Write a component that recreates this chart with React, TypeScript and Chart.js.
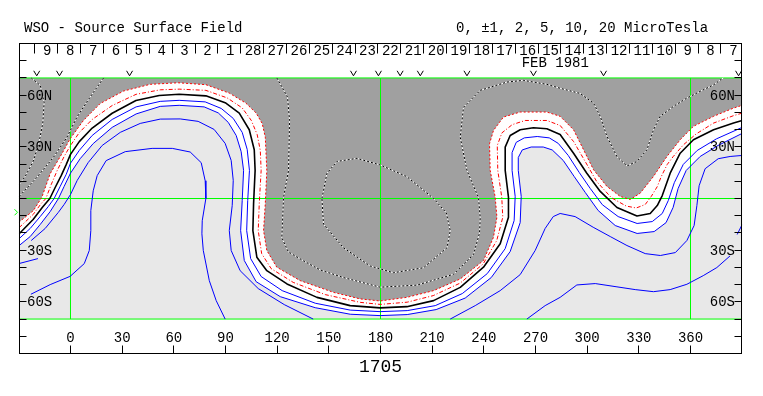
import { useEffect, useRef } from 'react';
import { Chart, registerables } from 'chart.js';

Chart.register(...registerables);

type Pt = [number, number]; // [longitude, latitude]

// ---- axes / labels ----
const LON_MIN = -30;
const LON_MAX = 390;
const LAT_MIN = -90;
const LAT_MAX = 90;
const PLOT_LAT = 70;
const gridLats = [70, 0, -70];
const gridLons = [0, 180, 360];
const lonTicks = [0, 30, 60, 90, 120, 150, 180, 210, 240, 270, 300, 330, 360];
const latTicks = [-80, -70, -60, -50, -40, -30, -20, -10, 0, 10, 20, 30, 40, 50, 60, 70, 80];
const latLabels: [number, string][] = [[60, '60N'], [30, '30N'], [-30, '30S'], [-60, '60S']];
const dayTickLons = [-20.7, -7.4, 5.9, 19.1, 32.4, 45.7, 59.0, 72.3, 85.5, 98.8, 112.1, 125.4, 138.7, 151.9, 165.2, 178.5, 191.8, 205.1, 218.3, 231.6, 244.9, 258.2, 271.5, 284.7, 298.0, 311.3, 324.6, 337.9, 351.1, 364.4, 377.7];
const dayLabels = ['9', '8', '7', '6', '5', '4', '3', '2', '1', '28', '27', '26', '25', '24', '23', '22', '21', '20', '19', '18', '17', '16', '15', '14', '13', '12', '11', '10', '9', '8', '7'];
const obsMarkLons = [-19.6, -6.4, 34.3, 164.3, 178.8, 191.4, 203.1, 230.2, 268.8, 309.5, 387.9];
const monthLabel = 'FEB 1981';
const monthLon = 281.5;
const b0Lat = -8;
const rotationLabel = '1705';
const titleLeft = 'WSO - Source Surface Field';
const titleRight = '0, \u00B11, 2, 5, 10, 20 MicroTesla';

// ---- contours ----
const neutralLine: Pt[] = [[-29.8, -20.5], [-21.7, -12.2], [-16.4, -5.2], [-12.0, 0], [-8.9, 6.4], [-5.4, 13.3], [-2.5, 19.7], [0, 25.6], [5.1, 33.0], [12.6, 40.9], [24.2, 49.5], [38.0, 56.9], [51.5, 59.8], [63.1, 60.5], [78.6, 59.6], [90.2, 55.4], [98.0, 49.6], [103.8, 39.9], [106.7, 28.3], [107.2, 16.3], [106.3, -3.1], [105.9, -18.6], [108.2, -34.1], [114.0, -41.9], [125.7, -49.6], [143.1, -57.4], [162.4, -62.2], [179.8, -63.5], [195.3, -62.8], [210.8, -59.3], [226.3, -51.6], [239.8, -39.9], [249.5, -26.3], [254.3, -10.9], [254.3, 0.8], [252.4, 16.3], [252.4, 29.8], [255.3, 36.6], [261.1, 39.9], [268.8, 41.1], [276.6, 40.5], [284.3, 37.2], [292.1, 26.3], [299.8, 14.7], [307.6, 4.1], [317.3, -5.2], [328.9, -10.2], [336.6, -8.7], [340.7, -4.1], [343.6, 1.7], [348.2, 14.7], [354.0, 26.3], [361.7, 34.1], [373.4, 39.9], [385.0, 43.8], [390, 45.3]];

const minusOne: Pt[] = [[-29.8, -16.9], [-21.7, -9.3], [-17.0, -2.9], [-14.3, 0], [-11.2, 8.1], [-7.7, 16.3], [-3.7, 24.4], [0, 30.8], [5.1, 38.3], [12.6, 45.9], [24.2, 54.0], [38.1, 60.5], [52.1, 63.1], [63.1, 63.5], [78.6, 62.8], [91.0, 58.4], [99.7, 52.6], [105.0, 45.3], [108.4, 37.1], [110.2, 27.9], [110.7, 16.3], [109.6, -2.9], [109.0, -18.6], [111.0, -32.0], [116.5, -40.7], [129.3, -48.7], [147.9, -55.8], [168.2, -60.3], [179.8, -61.5], [195.5, -60.2], [210.6, -56.4], [226.3, -49.1], [239.6, -38.0], [247.5, -24.4], [251.0, -10.9], [250.4, 0.8], [248.1, 16.3], [247.8, 30.8], [250.5, 38.1], [256.5, 42.9], [264.0, 45.3], [276.6, 45.3], [284.3, 42.4], [292.1, 33.1], [298.9, 21.4], [305.5, 9.9], [314.0, 0.5], [322.7, -4.4], [328.5, -5.5], [333.7, -3.5], [337.2, 1.2], [340.7, 6.9], [343.0, 12.7], [346.5, 19.8], [350.0, 24.4], [355.8, 31.1], [363.3, 37.5], [373.4, 43.8], [385.0, 48.1], [390, 49.6]];

const minusTwo: Pt[] = [[-30, -13.8], [-21.5, -7.0], [-16.6, 0.8], [-11.8, 14.4], [-5.0, 26.0], [-0.2, 34.7], [7.5, 45.3], [17.2, 55.1], [30.8, 62.4], [46.3, 66.3], [62.5, 67.2], [78.6, 66.1], [92.2, 61.2], [101.8, 55.4], [107.8, 49.6], [111.3, 43.6], [113.1, 35.6], [114.0, 16.3], [113.1, -3.1], [112.1, -18.6], [114.0, -30.2], [119.8, -39.9], [133.4, -47.7], [152.7, -54.5], [168.2, -58.3], [179.8, -59.5], [195.3, -57.4], [210.8, -53.5], [226.3, -46.7], [239.8, -36.0], [245.6, -22.5], [247.6, -10.9], [246.6, 0.8], [243.7, 16.3], [243.3, 31.8], [245.6, 39.5], [251.4, 47.3], [261.1, 50.2], [276.6, 50.2], [284.3, 47.7], [292.1, 39.9], [297.9, 28.3], [303.7, 16.7], [311.5, 7.0], [319.2, 1.2], [325.0, -0.6], [330.8, 3.1], [338.5, 12.8], [346.3, 24.4], [354.0, 34.1], [361.7, 41.9], [373.4, 47.7], [385.0, 52.5], [390, 54.1]];

const plusOne: Pt[] = [[-29.8, -23.3], [-23.4, -17.4], [-17.6, -10.5], [-12.9, -4.7], [-9.5, 0], [-6.0, 7.0], [-2.5, 14.0], [0, 20.5], [5.1, 27.9], [12.6, 36.6], [24.2, 45.9], [38.1, 53.2], [52.1, 56.4], [63.1, 57.0], [78.2, 56.1], [87.5, 52.3], [94.5, 46.5], [99.7, 38.4], [102.6, 28.5], [103.9, 16.3], [102.9, -1.2], [102.3, -18.6], [104.6, -34.9], [110.7, -45.3], [122.9, -53.5], [142.1, -60.8], [162.4, -64.8], [179.8, -65.7], [195.5, -65.1], [211.8, -62.2], [227.5, -55.2], [242.0, -43.6], [252.4, -29.1], [257.6, -12.8], [258.2, 1.2], [256.4, 16.3], [256.4, 26.7], [258.8, 32.6], [263.5, 35.2], [271.0, 36.0], [278.0, 35.2], [283.2, 32.0], [289.0, 25.0], [295.4, 15.1], [301.8, 5.8], [308.8, -3.6], [318.0, -10.5], [329.0, -14.5], [337.8, -13.4], [343.6, -8.7], [347.1, -1.2], [350.6, 9.2], [355.8, 19.8], [363.9, 27.9], [375.0, 34.6], [390, 41.3]];

const plusTwo: Pt[] = [[-29.8, -27.3], [-23.4, -22.1], [-17.6, -15.1], [-11.8, -7.6], [-7.0, 0], [-3.7, 7.0], [0, 14.7], [5.6, 23.1], [13.2, 31.9], [24.2, 41.3], [38.1, 49.1], [52.1, 53.5], [63.1, 54.1], [77.6, 53.2], [85.8, 49.7], [91.6, 44.2], [96.2, 36.6], [99.1, 27.2], [100.5, 16.3], [99.7, -1.2], [98.8, -18.6], [100.9, -36.0], [107.8, -48.3], [121.8, -57.0], [142.1, -63.4], [162.4, -67.2], [179.8, -68.0], [195.5, -67.4], [212.3, -64.5], [229.2, -57.8], [244.3, -45.9], [255.3, -30.8], [261.1, -14.0], [261.7, 1.2], [260.0, 16.3], [260.0, 23.8], [262.3, 28.2], [267.5, 29.9], [274.5, 29.9], [279.7, 28.2], [286.1, 22.1], [292.5, 12.7], [298.9, 3.5], [306.4, -7.0], [316.3, -15.7], [329.0, -20.3], [338.9, -19.2], [345.8, -14.0], [349.9, -5.2], [352.8, 5.8], [357.5, 16.3], [365.6, 24.4], [376.0, 30.8], [390, 37.8]];

const plusFiveWest: Pt[] = [[-22.8, -24.4], [-14.7, -17.4], [-7.1, -8.1], [-3.7, -3.5], [0, 2.3], [3.9, 10.5], [10.3, 20.9], [18.4, 30.8], [28.9, 38.4], [40.5, 43.6], [52.1, 46.1], [63.7, 46.2], [74.1, 44.8], [83.4, 40.1], [89.8, 32.0], [93.3, 22.1], [94.5, 10.5], [93.9, -4.1], [92.2, -18.6], [93.3, -30.2], [98.5, -41.9], [109.0, -52.3], [124.1, -61.6], [140.9, -70]];

const plusFiveEast: Pt[] = [[220.5, -70], [235.0, -62.2], [249.5, -53.5], [261.1, -44.2], [269.8, -30.2], [275.6, -17.4], [280.3, -10.5], [284.3, -8.7], [293.0, -10.5], [303.5, -16.7], [313.4, -22.1], [323.1, -27.3], [333.7, -32.0], [342.5, -33.1], [351.2, -31.4], [357.9, -24.4], [362.1, -15.7], [363.7, -4.1], [365.0, 7.4], [368.5, 17.3], [376.1, 23.1], [383.0, 24.4], [390, 25.0]];

const plusTenWest: Pt[] = [[-23.0, -55.6], [-11.8, -50.0], [-0.2, -45.2], [8.0, -37.8], [10.9, -30.2], [11.8, -18.6], [11.8, -7.0], [13.2, 4.5], [15.5, 13.3], [20.7, 22.0], [31.8, 27.2], [47.4, 29.1], [59.1, 29.1], [69.5, 27.0], [75.9, 20.8], [78.2, 10.3], [78.6, 0], [76.5, -12.9], [76.3, -20.5], [77.1, -30.2], [80.6, -47.7], [84.6, -59.3], [89.8, -70]];

const plusTenEast: Pt[] = [[265.0, -70], [275.6, -62.2], [284.3, -57.4], [294.0, -50.2], [304.7, -49.4], [317.3, -51.3], [327.9, -52.9], [338.5, -54.1], [348.2, -52.9], [357.9, -49.8], [367.4, -44.8], [375.3, -40.1], [383.0, -33.3]];

const stubWest: Pt[] = [[-30, -37.8], [-18.9, -34.9]];
const stubEast: Pt[] = [[390, -15.1], [387.1, -20.9]];

const minusFiveMain: Pt[] = [[119.8, 70], [126.0, 58.9], [127.2, 45.3], [126.6, 16.2], [123.7, 0.6], [122.7, -22.8], [126.5, -31.0], [135.3, -36.2], [145.0, -41.5], [158.5, -45.9], [179.8, -51.5], [201.1, -50.3], [222.4, -44.0], [234.0, -32.5], [237.5, -20.0], [237.9, -11.2], [236.9, 0.5], [230.2, 16.3], [226.3, 35.6], [228.2, 53.0], [237.9, 62.8], [253.4, 67.6], [263.0, 68.6], [276.6, 66.3], [284.3, 64.0], [295.9, 61.0], [303.7, 55.4], [307.6, 47.7], [311.5, 36.0], [317.3, 24.3], [323.1, 18.9], [328.9, 21.5], [334.7, 28.3], [338.5, 39.9], [342.4, 47.7], [350.1, 53.5], [357.9, 58.3], [365.6, 62.2], [373.4, 66.0], [379.0, 70]];

const minusTenLoop: Pt[] = [[146.0, 0], [148.9, 14.6], [154.7, 21.5], [166.3, 23.3], [179.8, 19.5], [195.3, 12.7], [210.8, 0], [218.2, -8.3], [220.5, -18.7], [218.6, -28.6], [205.0, -40.2], [187.5, -43.1], [174.0, -39.2], [158.5, -28.6], [146.9, -14.9], [146.0, 0]];

const minusFiveNW: Pt[] = [[19.2, 70], [11.4, 58.9], [3.7, 47.2], [-2.1, 35.5], [-9.9, 23.9], [-19.5, 12.3], [-29.8, 1.2]];

const minusTenNW: Pt[] = [[-22.8, 70], [-17.6, 65.7], [-15.3, 55.8], [-16.1, 43.6], [-18.4, 32.0], [-21.7, 21.5], [-26.3, 12.8], [-29.8, 8.1]];

const toXY = (a: Pt[]) => a.map(([x, y]) => ({ x, y }));

const fillDs = (a: Pt[], color: string, order: number) => ({
  data: toXY([...a, [LON_MAX, PLOT_LAT], [LON_MIN, PLOT_LAT]]),
  fill: 'shape',
  backgroundColor: color,
  borderColor: 'rgba(0,0,0,0)',
  borderWidth: 0,
  pointRadius: 0,
  order,
});

const lineDs = (a: Pt[], color: string, width: number, dash: number[], order: number) => ({
  data: toXY(a),
  fill: false,
  borderColor: color,
  borderWidth: width,
  borderDash: dash,
  pointRadius: 0,
  order,
});

const BLUE = '#0000ff';
const RED = '#ff0000';
const GREEN = '#00ff00';

export default function App() {
  const ref = useRef<HTMLCanvasElement>(null);

  useEffect(() => {
    const canvas = ref.current;
    if (!canvas) return;
    const FONT = "14px 'Liberation Mono', monospace";

    const datasets: any[] = [
      fillDs(plusTwo, '#ffffff', 100),
      fillDs(minusTwo, '#a0a0a0', 90),
    ];
    gridLats.forEach((lat) => datasets.push(lineDs([[LON_MIN, lat], [LON_MAX, lat]], GREEN, 1, [], 60)));
    gridLons.forEach((lon) => datasets.push(lineDs([[lon, -PLOT_LAT], [lon, PLOT_LAT]], GREEN, 1, [], 60)));
    [minusFiveMain, minusTenLoop, minusFiveNW, minusTenNW].forEach((c) => {
      datasets.push(lineDs(c, '#ffffff', 1, [], 31));
      datasets.push(lineDs(c, '#000000', 1, [2, 2], 30));
    });
    [plusOne, plusTwo, plusFiveWest, plusFiveEast, plusTenWest, plusTenEast, stubWest, stubEast].forEach((c) =>
      datasets.push(lineDs(c, BLUE, 1, [], 25))
    );
    datasets.push(lineDs(minusTwo, RED, 1, [2, 2], 20));
    datasets.push(lineDs(minusOne, RED, 1, [4, 2, 1, 2], 20));
    datasets.push(lineDs(neutralLine, '#000000', 1.6, [], 10));

    const deco = {
      id: 'deco',
      beforeDatasetsDraw(chart: any) {
        const { ctx, scales } = chart;
        const X = (v: number) => scales.x.getPixelForValue(v);
        const Y = (v: number) => scales.y.getPixelForValue(v);
        ctx.save();
        ctx.fillStyle = '#e8e8e8';
        ctx.fillRect(X(LON_MIN), Y(PLOT_LAT), X(LON_MAX) - X(LON_MIN), Y(-PLOT_LAT) - Y(PLOT_LAT));
        ctx.restore();
      },
      afterDatasetsDraw(chart: any) {
        const { ctx, chartArea: ca, scales } = chart;
        const X = (v: number) => scales.x.getPixelForValue(v);
        const Y = (v: number) => scales.y.getPixelForValue(v);
        const L = Math.round(ca.left) + 0.5;
        const R = Math.round(ca.right) - 0.5;
        const T = Math.floor(ca.top) + 0.5;
        const B = Math.floor(ca.bottom) + 0.5;
        ctx.save();
        ctx.strokeStyle = '#000';
        ctx.lineWidth = 1;
        ctx.strokeRect(L, T, R - L, B - T);
        ctx.beginPath();
        latTicks.forEach((lat) => {
          const y = Math.floor(Y(lat)) + 0.5;
          ctx.moveTo(L, y); ctx.lineTo(L + 7, y);
          ctx.moveTo(R - 7, y); ctx.lineTo(R, y);
        });
        lonTicks.forEach((lon) => {
          const x = Math.floor(X(lon)) + 0.5;
          ctx.moveTo(x, B - 8); ctx.lineTo(x, B);
        });
        dayTickLons.forEach((lon) => {
          const x = Math.floor(X(lon)) + 0.5;
          ctx.moveTo(x, T); ctx.lineTo(x, T + 10);
        });
        ctx.stroke();

        // observation markers
        ctx.beginPath();
        obsMarkLons.forEach((lon) => {
          const x = X(lon);
          const y = Y(72.7);
          ctx.moveTo(x - 3, y - 2.5); ctx.lineTo(x, y + 2.5); ctx.lineTo(x + 3, y - 2.5);
        });
        ctx.stroke();

        // B0 marker
        ctx.strokeStyle = GREEN;
        ctx.beginPath();
        const by = Y(b0Lat);
        ctx.moveTo(L - 5, by - 3); ctx.lineTo(L - 2, by); ctx.lineTo(L - 5, by + 3);
        ctx.stroke();

        ctx.fillStyle = '#000';
        ctx.font = FONT;
        ctx.textBaseline = 'alphabetic';
        ctx.textAlign = 'center';
        lonTicks.forEach((lon) => ctx.fillText(String(lon), X(lon), 342));
        const half = (X(dayTickLons[1]) - X(dayTickLons[0])) / 2;
        dayLabels.forEach((d, i) => ctx.fillText(d, X(dayTickLons[i]) + half + 1, 55));
        ctx.fillText(monthLabel, X(monthLon), 67);

        ctx.textAlign = 'left';
        latLabels.forEach(([lat, s]) => ctx.fillText(s, L + 7.5, Y(lat) + 4.5));
        ctx.textAlign = 'right';
        latLabels.forEach(([lat, s]) => ctx.fillText(s, R - 6.5, Y(lat) + 4.5));

        ctx.textAlign = 'left';
        ctx.fillText(titleLeft, 24, 32);
        ctx.fillText(titleRight, 456, 32);

        ctx.textAlign = 'center';
        ctx.font = "18px 'Liberation Mono', monospace";
        ctx.fillText(rotationLabel, X(180), 372);
        ctx.restore();
      },
    };

    const chart = new Chart(canvas, {
      type: 'line',
      data: { datasets },
      options: {
        responsive: false,
        maintainAspectRatio: false,
        animation: false,
        devicePixelRatio: 1,
        events: [],
        layout: { padding: { left: 18.83, right: 20.83, top: 43.5, bottom: 42.5 } },
        scales: {
          x: { type: 'linear', min: LON_MIN, max: LON_MAX, display: false },
          y: { type: 'linear', min: LAT_MIN, max: LAT_MAX, display: false },
        },
        elements: {
          point: { radius: 0 },
          line: { tension: 0, borderJoinStyle: 'round' },
        },
        plugins: {
          legend: { display: false },
          tooltip: { enabled: false },
        },
      } as any,
      plugins: [deco],
    });
    return () => chart.destroy();
  }, []);

  return (
    <div style={{ position: 'fixed', left: 0, top: 0, width: 763, height: 396, background: '#ffffff' }}>
      <canvas ref={ref} width={763} height={396} style={{ display: 'block', width: 763, height: 396 }} />
    </div>
  );
}
